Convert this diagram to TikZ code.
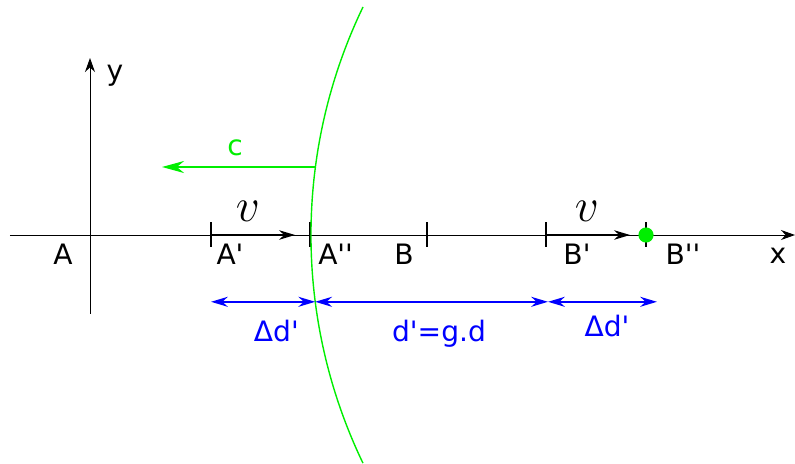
\documentclass[tikz,border=0pt]{standalone}
\usepackage{fontspec}
\setmainfont{DejaVu Sans}
\usetikzlibrary{arrows.meta, positioning}
\definecolor{wavegreen}{HTML}{00EE00}
\definecolor{distblue}{HTML}{0000FF}
\newcommand{\pr}{\textquotesingle}

\begin{document}
\begin{tikzpicture}[
  font=\fontsize{20}{24}\selectfont,
  axis/.style={black, line width=0.7pt,
    -{Stealth[length=3.5mm, width=2.5mm]}},
  tickmark/.style={black, line width=1.4pt},
  ptlabel/.style={anchor=base, inner sep=0pt},
  speedlabel/.style={anchor=base, inner sep=0pt, font=\Huge, scale=1.35},
  speed/.style={black, line width=1pt,
    -{Stealth[length=4mm, width=2.4mm]}},
  dist/.style={distblue, line width=1.3pt,
    {Stealth[length=4.2mm, width=2.5mm]}-{Stealth[length=4.2mm, width=2.5mm]}},
  distlabel/.style={anchor=base, inner sep=0pt, text=distblue},
]

\useasboundingbox (-2.25,-5.725) rectangle (17.625,5.875);

% =============================================
% Axes
% =============================================

\coordinate (origin) at (0,0);
\coordinate (xstart) at (-2,0);
\coordinate (xend) at (17.625,0);
\coordinate (ystart) at (0,-1.975);
\coordinate (yend) at (0,4.425);

\draw[axis] (xstart) -- (xend);
\draw[axis] (ystart) -- (yend);

\node[ptlabel] (xlbl) at (17.2,-0.72) {x};
\node[ptlabel] (ylbl) at (0.625,3.85) {y};
\node[ptlabel] (Albl) at (-0.675,-0.75) {A};

% =============================================
% Points on the axis
% =============================================

\coordinate (Ap) at (3.025,0);
\coordinate (App) at (5.5,0);
\coordinate (B) at (8.42,0);
\coordinate (Bp) at (11.4,0);
\coordinate (Bpp) at (13.9,0);

\draw[tickmark] (Ap) ++(0,0.32) -- ++(0,-0.62);
\draw[tickmark] (App) ++(0,0.32) -- ++(0,-0.62);
\draw[tickmark] (B) ++(0,0.32) -- ++(0,-0.62);
\draw[tickmark] (Bp) ++(0,0.32) -- ++(0,-0.62);
\draw[black, line width=0.8pt] (Bpp) ++(0,0.32) -- ++(0,-0.62);

\node[ptlabel] (Aplbl) at (3.5,-0.75) {A\pr};
\node[ptlabel] (Applbl) at (6.14,-0.75) {A\pr\pr};
\node[ptlabel] (Blbl) at (7.85,-0.75) {B};
\node[ptlabel] (Bplbl) at (12.175,-0.75) {B\pr};
\node[ptlabel] (Bpplbl) at (14.825,-0.75) {B\pr\pr};

% Speed arrows
\coordinate (vend1) at (5.125,0);
\coordinate (vend2) at (13.5,0);
\draw[speed] (Ap) -- (vend1);
\draw[speed] (Bp) -- (vend2);

\node[speedlabel] (v1) at (3.95,0.33) {$v$};
\node[speedlabel] (v2) at (12.425,0.33) {$v$};

% Moving point
\fill[wavegreen] (Bpp) circle (0.19);

% =============================================
% Wave front
% =============================================

\draw[wavegreen, line width=1pt]
  (6.825,5.7) arc[start angle=154.3, end angle=205.7, radius=13.15];

\coordinate (cstart) at (5.64,1.7);
\coordinate (cend) at (1.8,1.7);
\draw[wavegreen, line width=1.4pt, -{Stealth[length=5.5mm, width=3mm]}]
  (cstart) -- (cend);
\node[ptlabel, text=wavegreen] (clbl) at (3.625,1.975) {c};

% =============================================
% Distances
% =============================================

\coordinate (d1) at (3.025,-1.67);
\coordinate (d2) at (5.63,-1.67);
\coordinate (d3) at (11.45,-1.67);
\coordinate (d4) at (14.175,-1.67);

\draw[dist] (d1) -- (d2);
\draw[dist] (d2) -- (d3);
\draw[dist] (d3) -- (d4);

\node[distlabel] (dd1) at (4.66,-2.675) {Δd\pr};
\node[distlabel] (dmain) at (8.725,-2.675) {d\pr=g.d};
\node[distlabel] (dd2) at (12.925,-2.55) {Δd\pr};

\end{tikzpicture}
\end{document}
